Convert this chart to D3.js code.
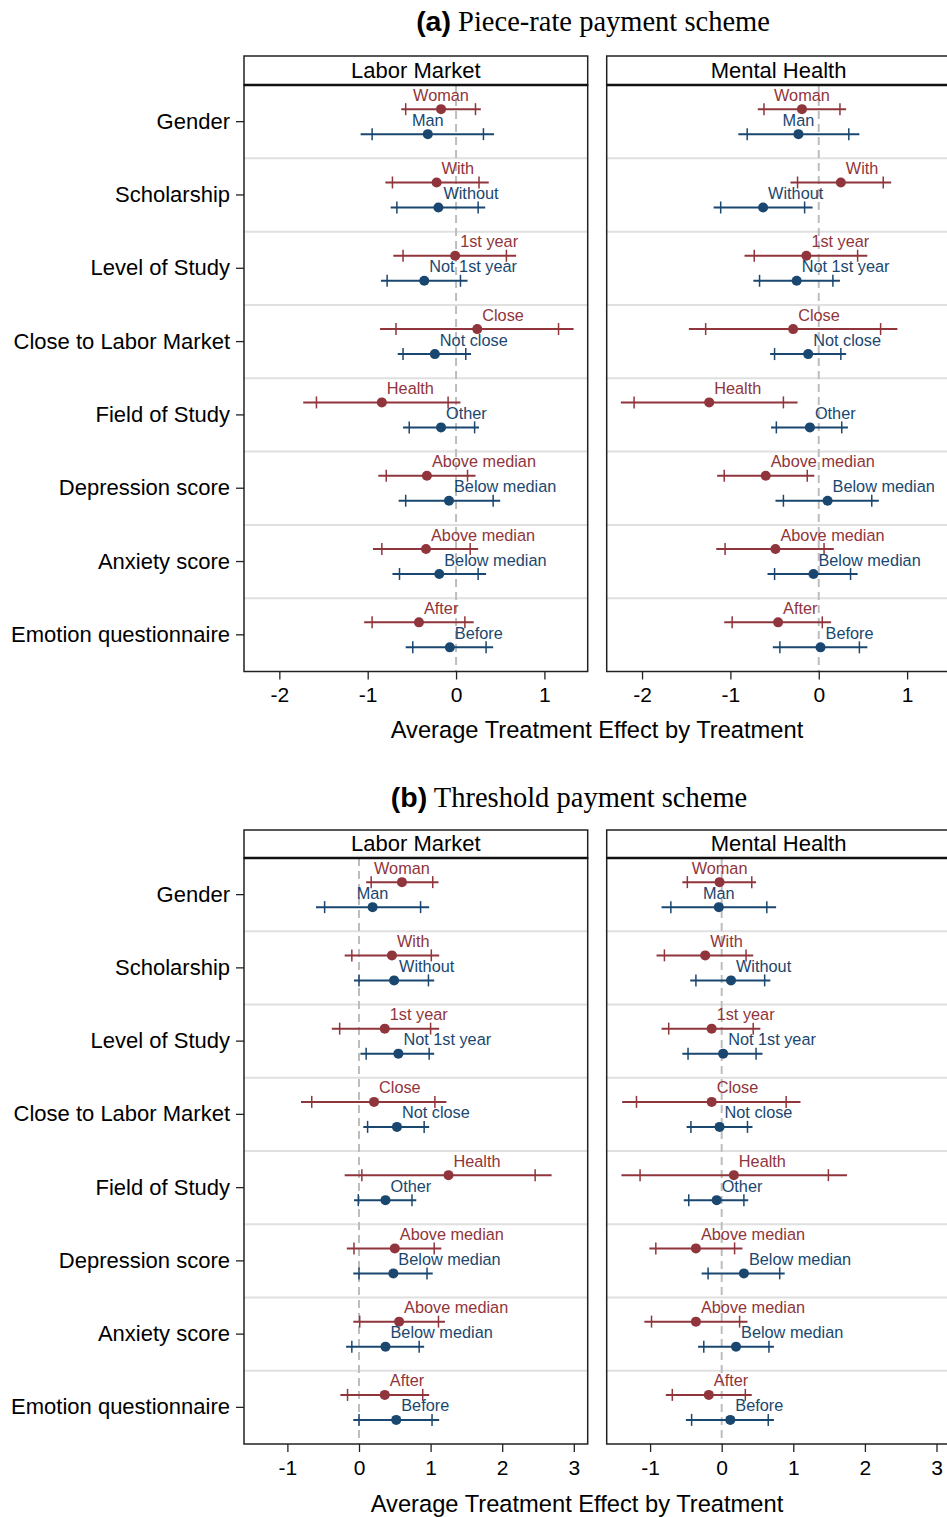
<!DOCTYPE html>
<html>
<head>
<meta charset="utf-8">
<script src="https://cdn.jsdelivr.net/npm/d3@7"></script>
<style>
body { margin: 0; background: #fff; }
svg text { font-family: "Liberation Sans", Arial, Helvetica, sans-serif; }
</style>
</head>
<body>
<div id="chart-area"></div>
<script>
// DATA
var groups = ["Gender", "Scholarship", "Level of Study", "Close to Labor Market",
    "Field of Study", "Depression score", "Anxiety score", "Emotion questionnaire"];
var redLabels = ["Woman", "With", "1st year", "Close", "Health", "Above median", "Above median", "After"];
var blueLabels = ["Man", "Without", "Not 1st year", "Not close", "Other", "Below median", "Below median", "Before"];
var panelNames = ["Labor Market", "Mental Health"];
var ticksA = [-2, -1, 0, 1];
var ticksB = [-1, 0, 1, 2, 3];

// each row: [estimate, lo95, lo90, hi90, hi95]
var aLaborRed = [
    [-0.17, -0.62, -0.57, 0.22, 0.28],
    [-0.22, -0.80, -0.72, 0.26, 0.37],
    [-0.01, -0.71, -0.60, 0.57, 0.68],
    [0.24, -0.86, -0.68, 1.16, 1.33],
    [-0.84, -1.73, -1.58, -0.09, 0.05],
    [-0.33, -0.88, -0.79, 0.13, 0.22],
    [-0.34, -0.94, -0.84, 0.16, 0.25],
    [-0.42, -1.04, -0.95, 0.10, 0.20]
];
var aLaborBlue = [
    [-0.32, -1.08, -0.95, 0.31, 0.43],
    [-0.20, -0.74, -0.67, 0.25, 0.33],
    [-0.36, -0.85, -0.78, 0.05, 0.13],
    [-0.24, -0.66, -0.60, 0.11, 0.17],
    [-0.17, -0.60, -0.53, 0.21, 0.26],
    [-0.08, -0.65, -0.57, 0.42, 0.50],
    [-0.19, -0.72, -0.64, 0.25, 0.34],
    [-0.07, -0.57, -0.49, 0.34, 0.42]
];
var aMentalRed = [
    [-0.19, -0.69, -0.62, 0.24, 0.31],
    [0.25, -0.32, -0.24, 0.73, 0.82],
    [-0.14, -0.84, -0.73, 0.44, 0.55],
    [-0.29, -1.47, -1.28, 0.70, 0.89],
    [-1.24, -2.24, -2.09, -0.40, -0.24],
    [-0.60, -1.15, -1.07, -0.13, -0.05],
    [-0.49, -1.16, -1.06, 0.06, 0.17],
    [-0.46, -1.07, -0.98, 0.04, 0.14]
];
var aMentalBlue = [
    [-0.23, -0.91, -0.81, 0.34, 0.46],
    [-0.63, -1.19, -1.11, -0.16, -0.07],
    [-0.25, -0.74, -0.67, 0.16, 0.24],
    [-0.12, -0.55, -0.50, 0.25, 0.31],
    [-0.10, -0.54, -0.48, 0.26, 0.33],
    [0.10, -0.49, -0.40, 0.60, 0.68],
    [-0.06, -0.58, -0.50, 0.36, 0.44],
    [0.02, -0.52, -0.44, 0.46, 0.55]
];
var bLaborRed = [
    [0.60, 0.10, 0.17, 1.03, 1.11],
    [0.46, -0.20, -0.10, 1.01, 1.12],
    [0.36, -0.38, -0.27, 1.00, 1.12],
    [0.21, -0.81, -0.66, 1.06, 1.22],
    [1.25, -0.20, 0.04, 2.46, 2.69],
    [0.50, -0.17, -0.07, 1.05, 1.15],
    [0.56, -0.08, 0.01, 1.11, 1.20],
    [0.36, -0.26, -0.16, 0.89, 0.98]
];
var bLaborBlue = [
    [0.19, -0.60, -0.48, 0.86, 0.98],
    [0.49, -0.07, 0.00, 0.97, 1.05],
    [0.55, 0.02, 0.10, 0.98, 1.05],
    [0.53, 0.06, 0.12, 0.91, 0.98],
    [0.37, -0.07, -0.01, 0.74, 0.80],
    [0.48, -0.08, 0.00, 0.95, 1.03],
    [0.37, -0.18, -0.10, 0.84, 0.91],
    [0.52, -0.08, 0.00, 1.02, 1.12]
];
var bMentalRed = [
    [-0.03, -0.55, -0.48, 0.42, 0.48],
    [-0.23, -0.91, -0.80, 0.34, 0.44],
    [-0.14, -0.84, -0.74, 0.44, 0.54],
    [-0.14, -1.39, -1.19, 0.90, 1.10],
    [0.17, -1.40, -1.14, 1.49, 1.75],
    [-0.36, -1.01, -0.92, 0.18, 0.29],
    [-0.36, -1.08, -0.98, 0.25, 0.36],
    [-0.18, -0.78, -0.69, 0.33, 0.42]
];
var bMentalBlue = [
    [-0.04, -0.84, -0.71, 0.63, 0.76],
    [0.13, -0.44, -0.36, 0.60, 0.68],
    [0.02, -0.55, -0.47, 0.48, 0.57],
    [-0.03, -0.49, -0.43, 0.36, 0.43],
    [-0.07, -0.53, -0.46, 0.31, 0.37],
    [0.31, -0.28, -0.19, 0.81, 0.88],
    [0.20, -0.33, -0.25, 0.66, 0.73],
    [0.12, -0.50, -0.42, 0.65, 0.73]
];

var RED = "#90353b";
var BLUE = "#1a476f";

// Create SVG
var svg = d3.select("#chart-area")
    .append("svg")
    .attr("width", 947)
    .attr("height", 1517);

var panelX = [244, 606.7];
var panelW = 343.7;

var sections = [
    {
        bold: "(a)", title: " Piece-rate payment scheme", titleX: 593, titleY: 31,
        headTop: 56, top: 85, bottom: 671.5, domain: [-2.40, 1.49], ticks: ticksA,
        axisTitleX: 597, axisTitleY: 738,
        series: [[aLaborRed, aLaborBlue], [aMentalRed, aMentalBlue]]
    },
    {
        bold: "(b)", title: " Threshold payment scheme", titleX: 569, titleY: 807,
        headTop: 830, top: 858, bottom: 1444, domain: [-1.606, 3.194], ticks: ticksB,
        axisTitleX: 577, axisTitleY: 1512,
        series: [[bLaborRed, bLaborBlue], [bMentalRed, bMentalBlue]]
    }
];

sections.forEach(function (s) {
    // Title
    var t = svg.append("text")
        .attr("x", s.titleX)
        .attr("y", s.titleY)
        .attr("text-anchor", "middle")
        .attr("font-size", "28.5px");
    t.append("tspan").attr("font-weight", "bold").text(s.bold);
    t.append("tspan").style("font-family", "'Liberation Serif', 'Times New Roman', serif").text(s.title);

    var y = d3.scaleBand().domain(groups).range([s.top, s.bottom]).padding(0);
    var inner = d3.scalePoint().domain(["red", "blue"]).range([-12.5, 12.5]);

    panelNames.forEach(function (name, p) {
        var x = d3.scaleLinear().domain(s.domain).range([panelX[p], panelX[p] + panelW]);
        var g = svg.append("g");

        // separators between groups
        g.selectAll(".sep")
            .data(groups.slice(1))
            .enter().append("line")
            .attr("x1", panelX[p]).attr("x2", panelX[p] + panelW)
            .attr("y1", function (d) { return y(d); })
            .attr("y2", function (d) { return y(d); })
            .attr("stroke", "#e0e0e0")
            .attr("stroke-width", 2);

        // zero line
        g.append("line")
            .attr("x1", x(0)).attr("x2", x(0))
            .attr("y1", s.top).attr("y2", s.bottom)
            .attr("stroke", "#bdbdbd")
            .attr("stroke-width", 2)
            .attr("stroke-dasharray", "8,5");

        // series
        [["red", RED, redLabels], ["blue", BLUE, blueLabels]].forEach(function (ser, k) {
            var rows = s.series[p][k];
            var yy = function (d, i) { return y(groups[i]) + y.bandwidth() / 2 + inner(ser[0]); };
            var sg = g.append("g").attr("fill", ser[1]).attr("stroke", ser[1]);

            sg.selectAll(".ci")
                .data(rows).enter().append("line")
                .attr("x1", function (d) { return x(d[1]); })
                .attr("x2", function (d) { return x(d[4]); })
                .attr("y1", yy).attr("y2", yy)
                .attr("stroke-width", 2);

            [2, 3].forEach(function (c) {
                sg.selectAll(".tk" + c)
                    .data(rows).enter().append("line")
                    .attr("x1", function (d) { return x(d[c]); })
                    .attr("x2", function (d) { return x(d[c]); })
                    .attr("y1", function (d, i) { return yy(d, i) - 6; })
                    .attr("y2", function (d, i) { return yy(d, i) + 6; })
                    .attr("stroke-width", 1.5);
            });

            sg.selectAll("circle")
                .data(rows).enter().append("circle")
                .attr("cx", function (d) { return x(d[0]); })
                .attr("cy", yy)
                .attr("r", 5)
                .attr("stroke", "none");

            sg.selectAll("text")
                .data(rows).enter().append("text")
                .attr("x", function (d, i) { return i === 0 ? x(d[0]) : x(d[0]) + 5; })
                .attr("y", function (d, i) { return yy(d, i) - 8.5; })
                .attr("text-anchor", function (d, i) { return i === 0 ? "middle" : "start"; })
                .attr("font-size", "16.3px")
                .attr("stroke", "none")
                .text(function (d, i) { return ser[2][i]; });
        });

        // frame
        g.append("rect")
            .attr("x", panelX[p]).attr("y", s.top)
            .attr("width", panelW).attr("height", s.bottom - s.top)
            .attr("fill", "none")
            .attr("stroke", "#222")
            .attr("stroke-width", 1.5);

        // header box
        g.append("rect")
            .attr("x", panelX[p]).attr("y", s.headTop)
            .attr("width", panelW).attr("height", s.top - s.headTop)
            .attr("fill", "#fff")
            .attr("stroke", "#222")
            .attr("stroke-width", 1.5);
        g.append("line")
            .attr("x1", panelX[p]).attr("x2", panelX[p] + panelW)
            .attr("y1", s.top).attr("y2", s.top)
            .attr("stroke", "#111")
            .attr("stroke-width", 2.5);
        g.append("text")
            .attr("x", panelX[p] + panelW / 2)
            .attr("y", s.top - 7.5)
            .attr("text-anchor", "middle")
            .attr("font-size", "22px")
            .text(name);

        // x axis
        var xAxis = d3.axisBottom(x)
            .tickValues(s.ticks)
            .tickSize(8)
            .tickPadding(8)
            .tickFormat(function (d) { return String(d); });
        var ax = g.append("g")
            .attr("transform", "translate(0," + s.bottom + ")")
            .call(xAxis);
        ax.select(".domain").remove();
        ax.selectAll("line").attr("stroke", "#222").attr("stroke-width", 1.3);
        ax.selectAll("text").attr("font-size", "21px").attr("fill", "#000");

        // y axis on the left panel only
        if (p === 0) {
            var yAxis = d3.axisLeft(y).tickSize(8).tickPadding(6);
            var ay = g.append("g")
                .attr("transform", "translate(" + panelX[p] + ",0)")
                .call(yAxis);
            ay.select(".domain").remove();
            ay.selectAll("line").attr("stroke", "#222").attr("stroke-width", 1.3);
            ay.selectAll("text").attr("font-size", "22px").attr("fill", "#000");
        }
    });

    // axis title
    svg.append("text")
        .attr("x", s.axisTitleX)
        .attr("y", s.axisTitleY)
        .attr("text-anchor", "middle")
        .attr("font-size", "23.7px")
        .text("Average Treatment Effect by Treatment");
});
</script>
</body>
</html>
